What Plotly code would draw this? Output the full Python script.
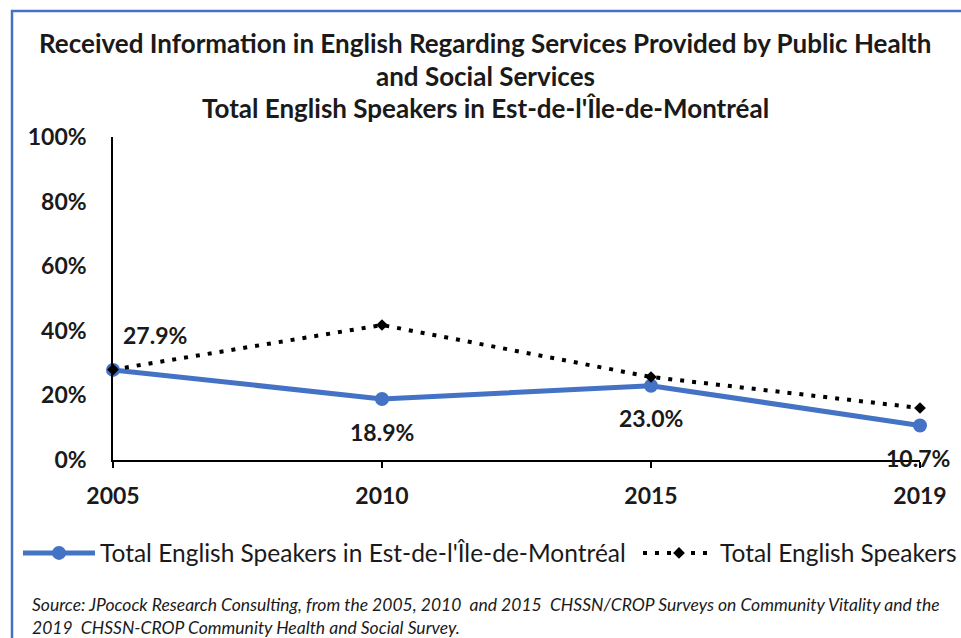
import plotly.graph_objects as go

# Survey years and shares who received information in English
years = ["2005", "2010", "2015", "2019"]
est_montreal = [0.279, 0.189, 0.230, 0.107]
all_english = [0.280, 0.418, 0.257, 0.161]

y_ticks = [0, 0.2, 0.4, 0.6, 0.8, 1.0]

title_lines = [
    "Received Information in English Regarding Services Provided by Public Health",
    "and Social Services",
    "Total English Speakers in Est-de-l'Île-de-Montréal",
]
source_lines = [
    "Source: JPocock Research Consulting, from the 2005, 2010  and 2015  CHSSN/CROP Surveys on Community Vitality and the",
    "2019  CHSSN-CROP Community Health and Social Survey.",
]

BLUE = "#4472C4"
FONT = "Lato"
INK = "#1a1a1a"

# plot area in pixels (used to place items outside the axes)
W, H = 961, 638
L, R, T, B = 113, 41, 137, 178
PW, PH = W - L - R, H - T - B


def px_x(x):
    return (x - L) / PW


def px_y(y):
    return (H - B - y) / PH


fig = go.Figure()

fig.add_trace(go.Scatter(
    x=years, y=est_montreal, mode="lines+markers",
    name="Total English Speakers in Est-de-l'Île-de-Montréal",
    line=dict(color=BLUE, width=5),
    marker=dict(symbol="circle", size=14, color=BLUE),
    cliponaxis=False, legend="legend",
))
fig.add_trace(go.Scatter(
    x=years, y=all_english, mode="lines+markers",
    name="Total English Speakers",
    line=dict(color="black", width=4, dash="4px,8px"),
    marker=dict(symbol="diamond", size=9, color="black"),
    cliponaxis=False, legend="legend2",
))

# value labels for the regional series (x given as category index)
label_offsets = [(42, 35), (0, -33), (0, -32), (-2, -33)]
for i, (v, (dx, dy)) in enumerate(zip(est_montreal, label_offsets)):
    fig.add_annotation(
        x=i, y=v, text=f"{v * 100:.1f}%", showarrow=False,
        xshift=dx, yshift=dy,
        font=dict(family=FONT, size=23, color=INK, weight="bold"),
    )

# title lines
for text, ypx in zip(title_lines, [43, 76, 108]):
    fig.add_annotation(
        xref="paper", yref="paper", x=px_x(485), y=px_y(ypx),
        text=text, showarrow=False, xanchor="center", yanchor="middle",
        font=dict(family=FONT, size=26, color=INK, weight="bold"),
    )

# source note
for text, ypx in zip(source_lines, [604, 627]):
    fig.add_annotation(
        xref="paper", yref="paper", x=px_x(30), y=px_y(ypx),
        text=f"<i>{text}</i>", showarrow=False, xanchor="left", yanchor="middle",
        font=dict(family=FONT, size=17.5, color=INK),
    )

# chart frame
fig.add_shape(
    type="rect", xref="paper", yref="paper",
    x0=px_x(12), x1=px_x(980), y0=px_y(660), y1=px_y(11),
    line=dict(color=BLUE, width=2.5), fillcolor="rgba(0,0,0,0)",
)

legend_style = dict(
    orientation="h", xanchor="left", yanchor="middle",
    itemwidth=72,
    font=dict(family=FONT, size=24.5, color=INK),
    bgcolor="rgba(0,0,0,0)",
)

fig.update_layout(
    width=W, height=H,
    margin=dict(l=L, r=R, t=T, b=B, autoexpand=False),
    paper_bgcolor="white", plot_bgcolor="white",
    font=dict(family=FONT, color=INK),
    showlegend=True,
    legend=dict(x=px_x(18), y=px_y(553), **legend_style),
    legend2=dict(x=px_x(638), y=px_y(553), **legend_style),
)

fig.update_xaxes(
    type="category", categoryorder="array", categoryarray=years,
    range=[0, 3], showgrid=False, automargin=False,
    showline=True, linecolor="black", linewidth=1.5,
    ticks="outside", ticklen=6, tickcolor="black", tickwidth=1.5,
    ticklabelstandoff=9,
    tickfont=dict(family=FONT, size=23, color=INK, weight="bold"),
)
fig.update_yaxes(
    range=[0, 1], tickvals=y_ticks, tickformat=".0%",
    showgrid=False, zeroline=False, automargin=False,
    showline=True, linecolor="black", linewidth=1.5,
    ticks="", ticklabelstandoff=20,
    tickfont=dict(family=FONT, size=23, color=INK, weight="bold"),
)

fig.write_html("out.html")
